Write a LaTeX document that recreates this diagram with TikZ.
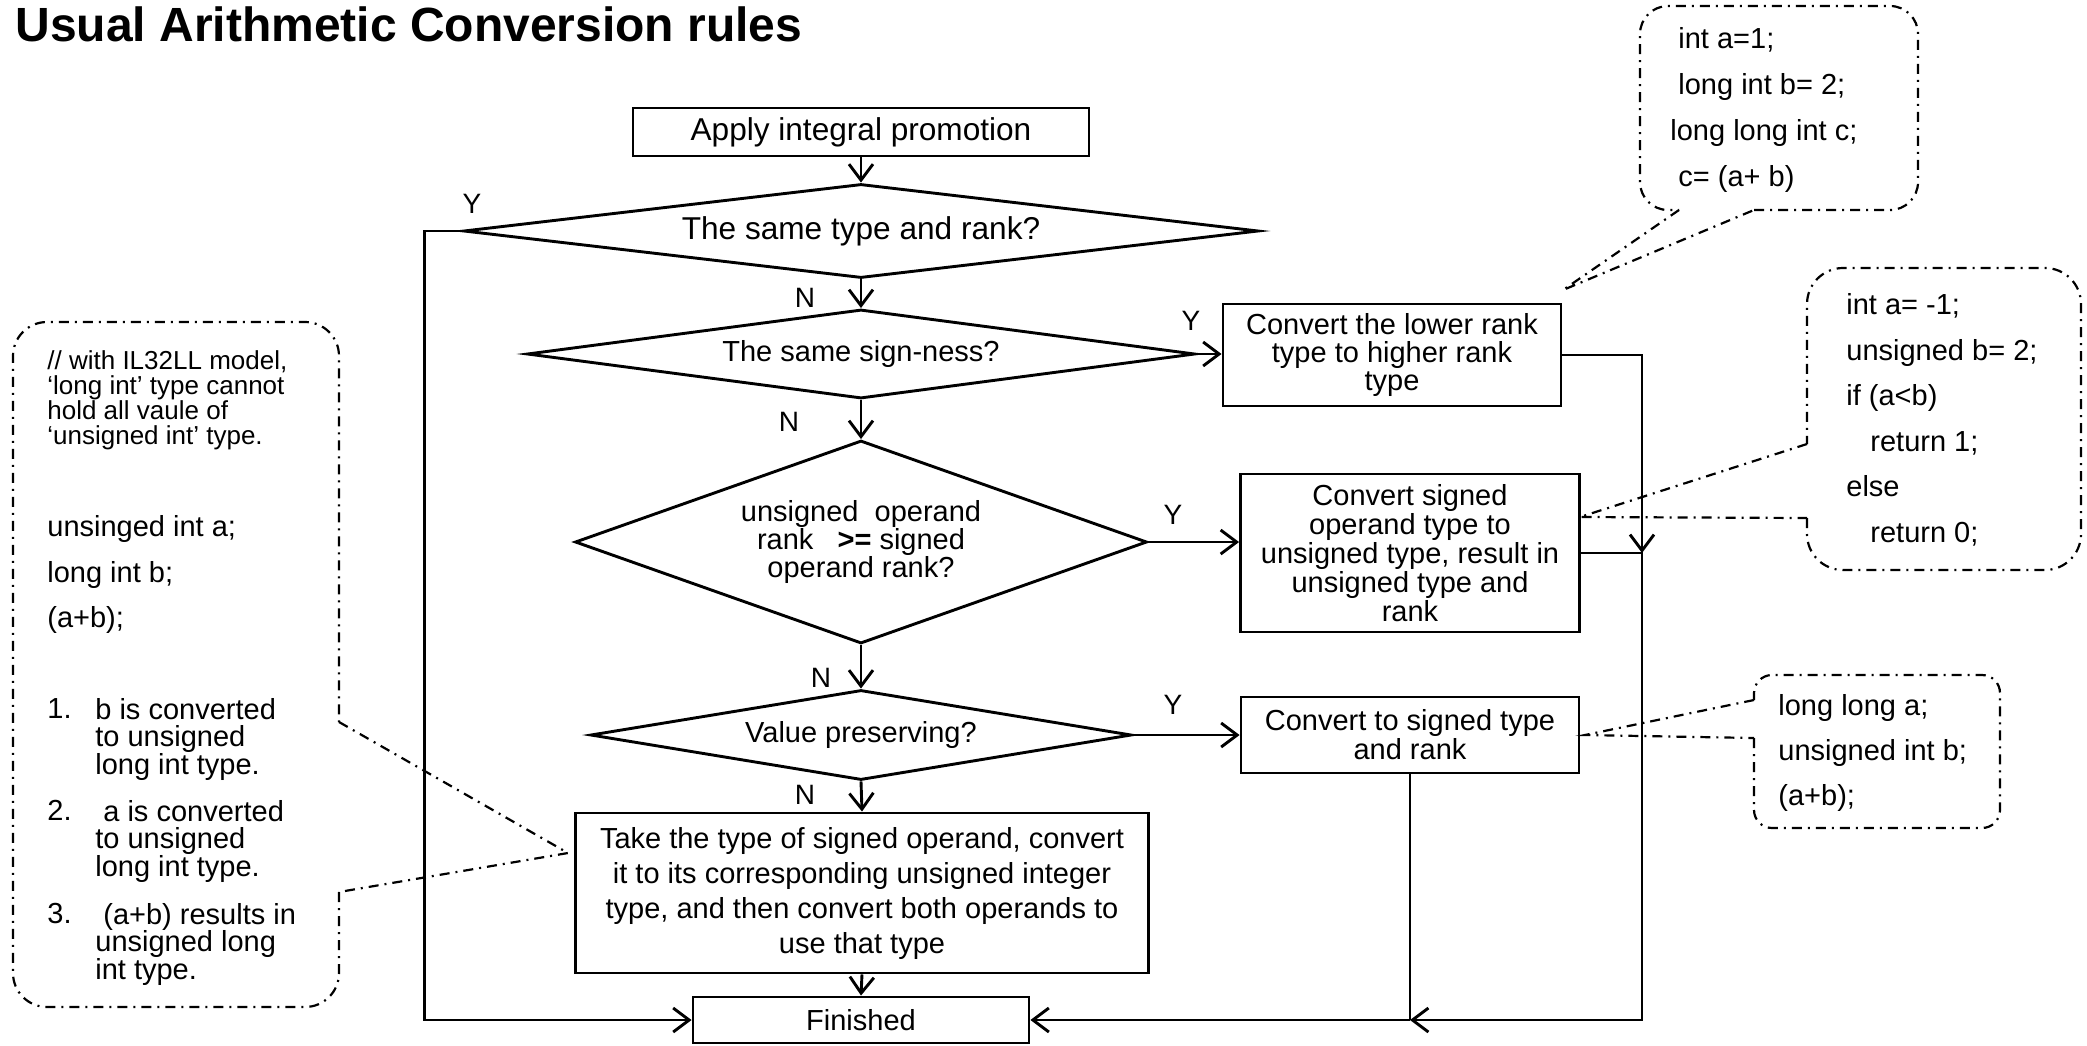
\documentclass[tikz,border=0pt]{standalone}
\usepackage{fontspec}
\setmainfont{Liberation Sans}
\usepackage{tikz}
\usetikzlibrary{shapes.geometric,arrows.meta}

\begin{document}
\begin{tikzpicture}[x=0.5pt,y=-0.5pt,
  every node/.style={font=\fontsize{14.5}{14}\selectfont},
  box/.style={draw,line width=1.45pt,inner sep=0pt,align=center},
  dec/.style={draw,diamond,line width=1.45pt,inner sep=0pt,align=center},
  flow/.style={line width=1.45pt,-{Straight Barb[length=8pt,width=12pt]}},
  wire/.style={line width=1.45pt},
  note/.style={line width=1.1pt,dash pattern=on 5pt off 3pt on 1pt off 3pt},
  code/.style={inner sep=0pt,anchor=north west,align=left,font=\fontsize{14.5}{22.8}\selectfont},
  yn/.style={inner sep=0pt,font=\fontsize{14}{14}\selectfont}]
\useasboundingbox (0,0) rectangle (2087,1045);
\node[anchor=base west,inner sep=0pt,font=\fontsize{24}{24}\selectfont\bfseries] (title) at (15,41) {Usual Arithmetic Conversion rules};
\node[box,minimum width=228pt,minimum height=24pt,font=\fontsize{15.8}{16}\selectfont] (apply) at (861,132) {Apply integral promotion};
\node[dec,aspect=8.5,minimum width=397.5pt,minimum height=47pt,font=\fontsize{15.8}{16}\selectfont] (d1) at (861,231) {The same type and rank?};
\node[dec,aspect=7.5,minimum width=334pt,minimum height=44.5pt] (d2) at (861,354) {The same sign-ness?};
\node[dec,aspect=2.8,minimum width=286pt,minimum height=101.5pt] (d3) at (861,542) {unsigned\ \ operand\\rank\ \ \ \textbf{>=} signed\\operand rank?};
\node[dec,aspect=6,minimum width=270.5pt,minimum height=45pt] (d4) at (861,735) {Value preserving?};
\node[box,minimum width=169pt,minimum height=51pt] (lower) at (1392,355) {Convert the lower rank\\type to higher rank\\type};
\node[box,minimum width=169.5pt,minimum height=79pt,font=\fontsize{14.5}{13.4}\selectfont] (sgnop) at (1410,553) {Convert signed\\operand type to\\unsigned type, result in\\unsigned type and\\rank};
\node[box,minimum width=169pt,minimum height=38pt,font=\fontsize{14.5}{13.4}\selectfont] (tosgn) at (1410,735) {Convert to signed type\\and rank};
\node[box,minimum width=286.5pt,minimum height=80pt,font=\fontsize{14.5}{17.5}\selectfont] (take) at (862,893) {Take the type of signed operand, convert\\it to its corresponding unsigned integer\\type, and then convert both operands to\\use that type};
\node[box,minimum width=168pt,minimum height=23pt] (fin) at (861,1020) {Finished};
\node[yn] (y1) at (472,204) {Y};
\node[yn] (n1) at (805,298) {N};
\node[yn] (y2) at (1191,321) {Y};
\node[yn] (n2) at (789,422) {N};
\node[yn] (y3) at (1173,515) {Y};
\node[yn] (n3) at (821,678) {N};
\node[yn] (y4) at (1173,705) {Y};
\node[yn] (n4) at (805,795) {N};
\coordinate (bus) at (1642,0);
\draw[flow] (apply.south) -- (d1.north);
\draw[flow] (d1.south) -- (d2.north);
\draw[flow] (d2.east) -- (d2.east -| lower.west);
\draw[flow] (d2.south) -- (d3.north);
\draw[flow] (d3.east) -- (d3.east -| sgnop.west);
\draw[flow] (d3.south) -- (d4.north);
\draw[flow] (d4.east) -- (tosgn.west);
\draw[flow] (d4.south) -- (take.north);
\draw[flow] (take.south) -- (fin.north);
\draw[flow] (d1.west) -- ++(-38,0) |- (fin.west);
\draw[flow] (lower.east) -| (bus |- sgnop.east);
\draw[flow] (sgnop.east) -- (bus |- sgnop.east) -- (bus |- fin.east) -- (tosgn.south |- fin.east);
\draw[flow] (tosgn.south |- fin.east) -- (fin.east);
\draw[wire] (tosgn.south) -- (tosgn.south |- fin.east);
\node[code,font=\fontsize{13}{12.6}\selectfont] (cmt) at (47,350) {// with IL32LL model,\\‘long int’ type cannot\\hold all vaule of\\‘unsigned int’ type.};
\node[code] (lcode) at (47,515) {unsinged int a;\\long int b;\\(a+b);};
\node[code,font=\fontsize{14.5}{13.75}\selectfont] (num1) at (47,698) {1.};
\node[code,font=\fontsize{14.5}{13.75}\selectfont] (item1) at (95,698) {b is converted\\to unsigned\\long int type.};
\node[code,font=\fontsize{14.5}{13.75}\selectfont] (num2) at (47,800) {2.};
\node[code,font=\fontsize{14.5}{13.75}\selectfont] (item2) at (95,800) {\hspace*{4pt}a is converted\\to unsigned\\long int type.};
\node[code,font=\fontsize{14.5}{13.75}\selectfont] (num3) at (47,903) {3.};
\node[code,font=\fontsize{14.5}{13.75}\selectfont] (item3) at (95,903) {\hspace*{4pt}(a+b) results in\\unsigned long\\int type.};
\node[code,font=\fontsize{14.5}{23}\selectfont] (tr) at (1678,27) {int a=1;\\long int b= 2;\\\hspace*{-4pt}long long int c;\\c= (a+ b)};
\node[code] (mr) at (1846,293) {int a= -1;\\unsigned b= 2;\\if (a<b)\\\hspace*{12pt}return 1;\\else\\\hspace*{12pt}return 0;};
\node[code,font=\fontsize{14.5}{22.5}\selectfont] (br) at (1778,694) {long long a;\\unsigned int b;\\(a+b);};
\coordinate (tipL) at (568,853);
\coordinate (tipA) at (1563,290);
\coordinate (tipB) at (1580,517);
\coordinate (tipC) at (1585,735);
\draw[note,rounded corners=17pt] (339,892) -- (339,1007) -- (13,1007) -- (13,322) -- (339,322) -- (339,722);
\draw[note] (339,722) -- (tipL) -- (339,892);
\draw[note,rounded corners=14pt] (1754,210) -- (1918,210) -- (1918,6) -- (1640,6) -- (1640,210) -- (1679,210);
\draw[note] (1679,210) -- (tipA) -- (1754,210);
\draw[note,rounded corners=18pt] (1807,518) -- (1807,570) -- (2081,570) -- (2081,268) -- (1807,268) -- (1807,444);
\draw[note] (1807,444) -- (tipB) -- (1807,518);
\draw[note,rounded corners=9pt] (1754,738) -- (1754,828) -- (2000,828) -- (2000,675) -- (1754,675) -- (1754,700);
\draw[note] (1754,700) -- (tipC) -- (1754,738);
\end{tikzpicture}
\end{document}
